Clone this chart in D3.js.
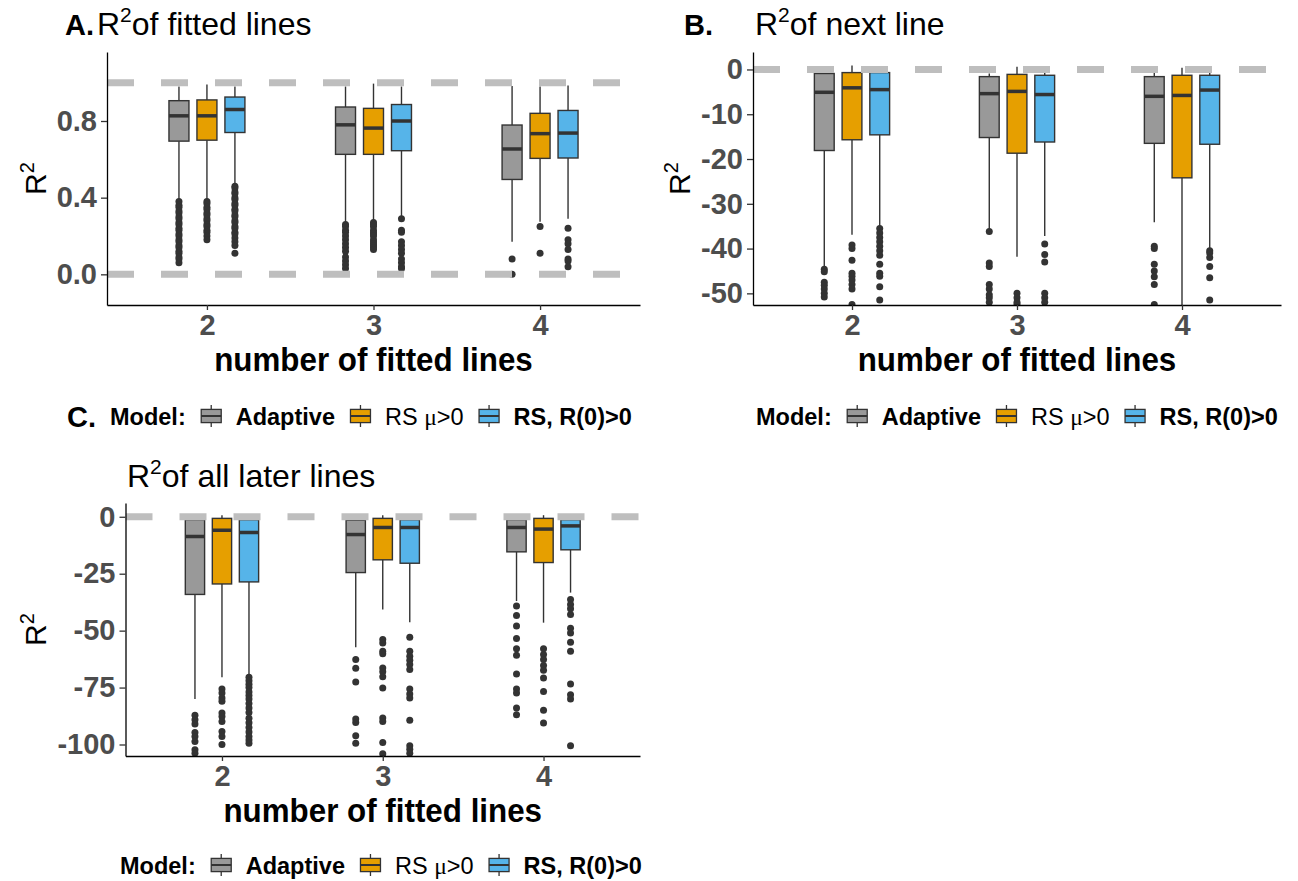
<!DOCTYPE html>
<html>
<head>
<meta charset="utf-8">
<script src="https://cdn.jsdelivr.net/npm/d3@7"></script>
<style>
body { margin: 0; background: #fff; }
text { font-family: "Liberation Sans", Arial, sans-serif; }
</style>
</head>
<body>
<svg id="chart" width="1298" height="881"></svg>
<script>
const groups = ["2", "3", "4"];
const models = ["Adaptive", "RS \u03bc>0", "RS, R(0)>0"];
const modelColors = ["#999999", "#E69F00", "#56B4E9"];

// values are in order: group 2 (3 models), group 3, group 4
// A. R2 of fitted lines
const fitUpper  = [0.98, 0.99, 0.98, 0.98, 0.995, 0.98, 0.983, 0.98, 0.985];
const fitQ3     = [0.906, 0.91, 0.925, 0.873, 0.866, 0.886, 0.779, 0.84, 0.855];
const fitMedian = [0.827, 0.827, 0.86, 0.78, 0.763, 0.80, 0.654, 0.734, 0.737];
const fitQ1     = [0.695, 0.70, 0.74, 0.626, 0.626, 0.645, 0.495, 0.605, 0.607];
const fitLower  = [0.39, 0.39, 0.47, 0.27, 0.28, 0.30, 0.17, 0.275, 0.29];
const fitOutliers = [
    [0.38, 0.36, 0.35, 0.33, 0.32, 0.30, 0.29, 0.27, 0.26, 0.24, 0.23, 0.21, 0.20, 0.18, 0.17, 0.15, 0.14, 0.12, 0.11, 0.09, 0.08, 0.06],
    [0.38, 0.37, 0.35, 0.34, 0.32, 0.31, 0.29, 0.28, 0.26, 0.25, 0.23, 0.22, 0.20, 0.18],
    [0.46, 0.45, 0.43, 0.42, 0.40, 0.39, 0.37, 0.36, 0.34, 0.33, 0.31, 0.30, 0.28, 0.27, 0.25, 0.24, 0.22, 0.21, 0.19, 0.17, 0.15, 0.11],
    [0.26, 0.25, 0.23, 0.22, 0.20, 0.18, 0.16, 0.14, 0.12, 0.09, 0.07, 0.05, 0.03],
    [0.27, 0.26, 0.25, 0.23, 0.22, 0.21, 0.20, 0.18, 0.17, 0.16, 0.15, 0.14, 0.13],
    [0.29, 0.23, 0.22, 0.17, 0.15, 0.13, 0.11, 0.08, 0.06, 0.04, 0.03],
    [0.08, 0.0],
    [0.25, 0.11],
    [0.24, 0.18, 0.16, 0.13, 0.08, 0.07, 0.04]
];

// B. R2 of next line
const nextUpper  = [-0.3, 0.9, -0.3, -0.9, 0.6, -0.5, -0.5, 0.4, 0.7];
const nextQ3     = [-0.9, -0.7, -0.7, -1.6, -1.1, -1.3, -1.6, -1.3, -1.3];
const nextMedian = [-5.1, -4.1, -4.5, -5.4, -4.9, -5.6, -6.0, -5.8, -4.6];
const nextQ1     = [-18.1, -15.7, -14.6, -15.2, -18.7, -16.2, -16.5, -24.2, -16.7];
const nextLower  = [-44, -36.9, -35.1, -35.6, -41.8, -37.2, -34.1, -60, -39.9];
const nextOutliers = [
    [-44.6, -45.2, -47.5, -48.2, -49, -50, -50.8],
    [-39.2, -40, -42.6, -45.5, -46.2, -47, -48, -49, -52.5],
    [-35.5, -36.5, -37.5, -38.5, -39.5, -40.5, -41.5, -43.5, -45.5, -46.2, -48.5, -51.5],
    [-36.2, -43.2, -44, -48, -49, -50.3, -51, -52],
    [-50, -51, -52, -52.5],
    [-39, -41.3, -43, -50, -51, -52],
    [-39.5, -40, -43.5, -45, -46.3, -48, -52.5],
    [],
    [-40.5, -41, -42, -44, -46.5, -51.5]
];

// C. R2 of all later lines
const laterUpper  = [-0.5, 0.7, -0.5, -0.5, 0.7, -0.5, -0.5, 0.7, -0.5];
const laterQ3     = [-1.3, -0.7, -1.3, -1.5, -0.7, -1.3, -1.3, -0.7, -1.3];
const laterMedian = [-8.7, -5.9, -6.9, -7.8, -4.7, -4.7, -4.7, -5.4, -4.0];
const laterQ1     = [-34.1, -29.5, -28.6, -24.5, -18.9, -20.4, -15.4, -20.1, -14.5];
const laterLower  = [-80, -70.5, -69.3, -57.3, -40.7, -46.3, -37, -46.5, -33.3];
const laterOutliers = [
    [-87.2, -89.1, -91, -94.7, -96.5, -98.7, -102.3, -103.8],
    [-75.6, -77.4, -79.6, -81, -86.2, -87.7, -89.9, -94.3, -96.5, -100],
    [-70.5, -72, -73.5, -75, -77, -78.5, -80, -82, -84, -86, -88.5, -90.5, -92.5, -94.5, -96.5, -98, -99.4],
    [-62.7, -66.5, -72.5, -88.8, -90.3, -96.2, -99.4],
    [-53.9, -55.4, -59, -60.2, -66.4, -68.1, -70.3, -75.2, -88.4, -89.9, -99.1, -104.1],
    [-52.9, -59, -61.2, -63, -64.9, -67.1, -75.6, -77.8, -79.6, -89.4, -100.6, -102.1, -103.8],
    [-39.2, -43.3, -48, -53.5, -57.9, -60.8, -69, -75.6, -77.4, -84, -86.9],
    [-57.9, -60.5, -62.7, -65.3, -67.4, -70.8, -76.7, -85, -90.6],
    [-36.3, -38.5, -40.4, -42.9, -49, -51, -55.1, -59, -73.4, -78.1, -80, -100.6]
];

const fitTicks = [0.0, 0.4, 0.8];
const nextTicks = [0, -10, -20, -30, -40, -50];
const laterTicks = [0, -25, -50, -75, -100];

const svg = d3.select("#chart");

function addR2(sel, rest, supSize, shift) {
    sel.append("tspan").text("R");
    sel.append("tspan").attr("font-size", supSize).attr("dy", -shift).text("2");
    if (rest) sel.append("tspan").attr("dy", shift).text(rest);
}

function drawPanel(opt) {
    let x = d3.scalePoint().domain(groups).range([opt.left, opt.right]).padding(0.6);
    let y = d3.scaleLinear().domain(opt.domain).range([opt.bottom, opt.top]);
    let step = x.step();
    let dodge = 0.168 * step, boxW = 0.12 * step;

    svg.append("clipPath").attr("id", "clip" + opt.id)
        .append("rect")
        .attr("x", opt.left).attr("y", opt.top)
        .attr("width", opt.right - opt.left).attr("height", opt.bottom - opt.top);
    let g = svg.append("g").attr("clip-path", "url(#clip" + opt.id + ")");

    let rows = [];
    groups.forEach(function (grp, gi) {
        models.forEach(function (m, mi) {
            let k = gi * 3 + mi;
            rows.push({
                grp: grp, mi: mi,
                cx: x(grp) + (mi - 1) * dodge,
                upper: opt.upper[k], q3: opt.q3[k], median: opt.median[k],
                q1: opt.q1[k], lower: opt.lower[k], outliers: opt.outliers[k]
            });
        });
    });

    let box = g.selectAll(".box").data(rows).enter().append("g").attr("class", "box");
    box.append("line")
        .attr("x1", d => d.cx).attr("x2", d => d.cx)
        .attr("y1", d => y(d.q3)).attr("y2", d => y(d.upper))
        .attr("stroke", "#333").attr("stroke-width", 1.4);
    box.append("line")
        .attr("x1", d => d.cx).attr("x2", d => d.cx)
        .attr("y1", d => y(d.q1)).attr("y2", d => y(d.lower))
        .attr("stroke", "#333").attr("stroke-width", 1.4);
    box.append("rect")
        .attr("x", d => d.cx - boxW / 2).attr("width", boxW)
        .attr("y", d => y(d.q3)).attr("height", d => y(d.q1) - y(d.q3))
        .attr("fill", d => modelColors[d.mi])
        .attr("stroke", "#333").attr("stroke-width", 1.4);
    box.append("line")
        .attr("x1", d => d.cx - boxW / 2).attr("x2", d => d.cx + boxW / 2)
        .attr("y1", d => y(d.median)).attr("y2", d => y(d.median))
        .attr("stroke", "#333").attr("stroke-width", 3.5);
    box.selectAll("circle")
        .data(d => d.outliers.map(v => ({cx: d.cx, v: v})))
        .enter().append("circle")
        .attr("cx", d => d.cx).attr("cy", d => y(d.v))
        .attr("r", 3.5).attr("fill", "#333");

    // dashed reference lines
    g.selectAll(".ref").data(opt.refs).enter().append("line")
        .attr("x1", opt.left).attr("x2", opt.right)
        .attr("y1", d => y(d)).attr("y2", d => y(d))
        .attr("stroke", "#bebebe").attr("stroke-width", 7)
        .attr("stroke-dasharray", "27,27");

    let yAxis = svg.append("g")
        .attr("transform", "translate(" + opt.left + ",0)")
        .call(d3.axisLeft(y).tickValues(opt.ticks).tickFormat(opt.fmt)
            .tickSize(6).tickSizeOuter(0).tickPadding(4));
    let xAxis = svg.append("g")
        .attr("transform", "translate(0," + opt.bottom + ")")
        .call(d3.axisBottom(x).tickSize(5).tickSizeOuter(0).tickPadding(4));
    [yAxis, xAxis].forEach(function (a) {
        a.select(".domain").attr("stroke", "#000").attr("stroke-width", 1.3);
        a.selectAll(".tick line").attr("stroke", "#333").attr("stroke-width", 1.3);
        a.selectAll(".tick text")
            .attr("font-family", "Liberation Sans, Arial, sans-serif")
            .attr("font-size", 29).attr("font-weight", "bold").attr("fill", "#4d4d4d");
    });

    svg.append("text")
        .attr("transform", "translate(" + (opt.left + opt.right) / 2 + "," + (opt.bottom + 66) + ") scale(0.95,1)")
        .attr("text-anchor", "middle")
        .attr("font-size", 33).attr("font-weight", "bold")
        .text("number of fitted lines");

    let yt = svg.append("text")
        .attr("transform", "translate(" + opt.yTitleX + "," + (opt.top + opt.bottom) / 2 + ") rotate(-90)")
        .attr("text-anchor", "middle")
        .attr("font-size", 30);
    addR2(yt, "", 20, 12);

    let title = svg.append("text")
        .attr("x", opt.titleX).attr("y", opt.titleY)
        .attr("font-size", 32);
    addR2(title, opt.title, 21, 13);
}

function drawLegend(x0, baseline) {
    let g = svg.append("g");
    let labelWeight = ["bold", "normal", "bold"];
    let t = g.append("text").attr("x", x0).attr("y", baseline)
        .attr("font-size", 23.5).attr("font-weight", "bold").text("Model:");
    let cur = x0 + t.node().getComputedTextLength() + 14;
    models.forEach(function (m, i) {
        let kw = 23, kh = 22, top = baseline - 20;
        let cx = cur + kw / 2;
        g.append("line").attr("x1", cx).attr("x2", cx)
            .attr("y1", top).attr("y2", top + kh)
            .attr("stroke", "#333").attr("stroke-width", 1.3);
        g.append("rect").attr("x", cur + 1.5).attr("width", kw - 3)
            .attr("y", top + kh * 0.2).attr("height", kh * 0.6)
            .attr("fill", modelColors[i]).attr("stroke", "#333").attr("stroke-width", 1.3);
        g.append("line").attr("x1", cur + 1.5).attr("x2", cur + kw - 1.5)
            .attr("y1", top + kh / 2).attr("y2", top + kh / 2)
            .attr("stroke", "#333").attr("stroke-width", 2);
        cur += kw + 13;
        let lab = g.append("text").attr("x", cur).attr("y", baseline)
            .attr("font-size", 23.5).attr("font-weight", labelWeight[i]);
        if (m.indexOf("\u03bc") >= 0) {
            let parts = m.split("\u03bc");
            lab.append("tspan").text(parts[0]);
            lab.append("tspan").attr("font-family", "Liberation Serif, serif").text("\u03bc");
            lab.append("tspan").text(parts[1]);
        } else {
            lab.text(m);
        }
        cur += lab.node().getComputedTextLength() + 14;
    });
}

drawPanel({
    id: "A", left: 107, right: 640, top: 52, bottom: 305,
    domain: [-0.16, 1.16], ticks: fitTicks, fmt: d => d.toFixed(1), refs: [0, 1],
    upper: fitUpper, q3: fitQ3, median: fitMedian, q1: fitQ1, lower: fitLower, outliers: fitOutliers,
    yTitleX: 46, titleX: 97, titleY: 35, title: "of fitted lines"
});
drawPanel({
    id: "B", left: 753, right: 1281, top: 52, bottom: 305,
    domain: [-52.6, 3.9], ticks: nextTicks, fmt: d => String(d), refs: [0],
    upper: nextUpper, q3: nextQ3, median: nextMedian, q1: nextQ1, lower: nextLower, outliers: nextOutliers,
    yTitleX: 690, titleX: 755, titleY: 35, title: "of next line"
});
drawPanel({
    id: "C", left: 125.5, right: 640, top: 503, bottom: 756,
    domain: [-105.05, 6.05], ticks: laterTicks, fmt: d => String(d), refs: [0],
    upper: laterUpper, q3: laterQ3, median: laterMedian, q1: laterQ1, lower: laterLower, outliers: laterOutliers,
    yTitleX: 46, titleX: 127, titleY: 487, title: "of all later lines"
});

// panel letters
svg.append("text").attr("x", 65).attr("y", 35).attr("font-size", 29).attr("font-weight", "bold").text("A.");
svg.append("text").attr("x", 684).attr("y", 35).attr("font-size", 29).attr("font-weight", "bold").text("B.");
svg.append("text").attr("x", 67).attr("y", 427).attr("font-size", 29).attr("font-weight", "bold").text("C.");

drawLegend(110, 425);
drawLegend(756, 425);
drawLegend(120, 874);
</script>
</body>
</html>
